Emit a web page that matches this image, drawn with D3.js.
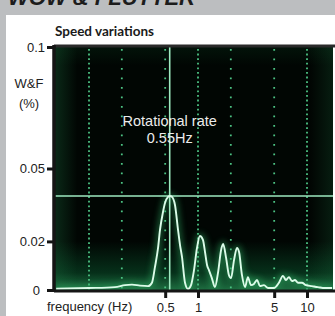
<!DOCTYPE html>
<html>
<head>
<meta charset="utf-8">
<script src="https://cdn.jsdelivr.net/npm/d3@7"></script>
<style>
  html, body { margin: 0; padding: 0; background: #bcbec0; }
  svg { display: block; }
</style>
</head>
<body>
<svg id="chart" width="335" height="316"></svg>
<script>
// spectrum (frequency in Hz, W&F in %)
const freq = [0.05, 0.1, 0.173, 0.214, 0.248, 0.294, 0.348, 0.378, 0.403, 0.43, 0.448, 0.477, 0.498,
  0.531, 0.553, 0.577, 0.615, 0.656, 0.684, 0.713, 0.76, 0.81, 0.863, 0.919, 0.979, 1.04, 1.11,
  1.16, 1.21, 1.26, 1.34, 1.43, 1.53, 1.63, 1.7, 1.81, 1.92, 2.01, 2.14, 2.28, 2.38, 2.53, 2.7,
  2.87, 3.06, 3.26, 3.48, 3.7, 4.03, 4.39, 4.98, 5.53, 6.02, 6.41, 6.83, 7.28, 7.76, 8.27, 8.99,
  9.78, 11.1, 12.6, 14.6, 17];
const wf = [0.0005, 0.0008, 0.0012, 0.002, 0.0022, 0.0018, 0.0016, 0.003, 0.0095, 0.0173, 0.0247,
  0.032, 0.0358, 0.0383, 0.0387, 0.0383, 0.035, 0.0247, 0.0185, 0.0136, 0.003, 0.0004, 0.002,
  0.0082, 0.0173, 0.0222, 0.0206, 0.0156, 0.0103, 0.0082, 0.0049, 0.0012, 0.0074, 0.0165, 0.0189,
  0.0132, 0.0062, 0.0049, 0.0123, 0.0173, 0.0156, 0.0062, 0.0012, 0.0053, 0.002, 0.0025, 0.0041,
  0.0016, 0.002, 0.0008, 0.0008, 0.003, 0.0058, 0.0041, 0.0053, 0.0037, 0.0041, 0.003, 0.003,
  0.002, 0.0016, 0.0012, 0.0008, 0.0008];

const xTicks = [0.5, 1, 5, 10];
const yTicks = [0, 0.02, 0.05, 0.1];
const gridFreqs = [0.1, 0.2, 0.5, 1, 2, 5, 10];
const decadeFreqs = [0.1, 1, 10];
const peakFreq = 0.55;
const peakLevel = 0.0387;

const svg = d3.select('#chart');

// plot box
const pLeft = 55, pRight = 333, pTop = 46, pBottom = 290;

const x = d3.scaleLog().domain([0.1, 10]).range([89, 307]);
const y = d3.scaleLinear().domain([0, 0.1]).range([pBottom, 47]);

// header strip (title runs off the top, as in the page it was cut from) + white panel
svg.append('text')
  .attr('x', 8).attr('y', 5)
  .attr('font-family', 'Liberation Sans, Arial, sans-serif')
  .attr('font-size', 22).attr('font-weight', 'bold').attr('font-style', 'italic')
  .attr('fill', '#1c1c1c')
  .text('WOW & FLUTTER');

svg.append('rect')
  .attr('x', 6).attr('y', 15).attr('width', 335).attr('height', 316)
  .attr('fill', '#fff');

svg.append('text')
  .attr('x', 55).attr('y', 36)
  .attr('font-family', 'Lato, sans-serif')
  .attr('font-size', 13.5).attr('font-weight', 'bold')
  .attr('fill', '#1a1a1a')
  .text('Speed variations');

const defs = svg.append('defs');

const bg = defs.append('linearGradient')
  .attr('id', 'bg').attr('x1', 0).attr('y1', 0).attr('x2', 0).attr('y2', 1);
bg.append('stop').attr('offset', '0%').attr('stop-color', '#03140a');
bg.append('stop').attr('offset', '8%').attr('stop-color', '#010603');
bg.append('stop').attr('offset', '80%').attr('stop-color', '#010603');
bg.append('stop').attr('offset', '93%').attr('stop-color', '#06301a');
bg.append('stop').attr('offset', '100%').attr('stop-color', '#1e6e41');

const side = defs.append('linearGradient')
  .attr('id', 'side').attr('x1', 0).attr('y1', 0).attr('x2', 1).attr('y2', 0);
side.append('stop').attr('offset', '0%').attr('stop-color', '#1f7a46').attr('stop-opacity', 0.3);
side.append('stop').attr('offset', '8%').attr('stop-color', '#1f7a46').attr('stop-opacity', 0);
side.append('stop').attr('offset', '92%').attr('stop-color', '#1f7a46').attr('stop-opacity', 0);
side.append('stop').attr('offset', '100%').attr('stop-color', '#1f7a46').attr('stop-opacity', 0.2);

const glow = defs.append('filter').attr('id', 'glow')
  .attr('x', '-20%').attr('y', '-20%').attr('width', '140%').attr('height', '140%');
glow.append('feGaussianBlur').attr('stdDeviation', 3);

defs.append('clipPath').attr('id', 'clip')
  .append('rect')
  .attr('x', pLeft).attr('y', pTop).attr('width', pRight - pLeft).attr('height', pBottom - pTop);

svg.append('rect')
  .attr('x', pLeft).attr('y', pTop).attr('width', pRight - pLeft).attr('height', pBottom - pTop)
  .attr('fill', 'url(#bg)');
svg.append('rect')
  .attr('x', pLeft).attr('y', pTop).attr('width', pRight - pLeft).attr('height', pBottom - pTop)
  .attr('fill', 'url(#side)');

const plot = svg.append('g').attr('clip-path', 'url(#clip)');

// dotted frequency grid
plot.append('g')
  .selectAll('line')
  .data(gridFreqs)
  .join('line')
  .attr('x1', d => x(d)).attr('x2', d => x(d))
  .attr('y1', pTop + 3).attr('y2', pBottom)
  .attr('stroke', '#4cc283')
  .attr('stroke-width', 1.8)
  .attr('stroke-dasharray', d => decadeFreqs.includes(d) ? '1.8,2.8' : '1.8,7.7');

const line = d3.line()
  .x((d, i) => x(freq[i]))
  .y(d => y(d))
  .curve(d3.curveMonotoneX);

// green halo under the trace
plot.append('path')
  .attr('d', line(wf))
  .attr('fill', 'none')
  .attr('stroke', '#2fae63')
  .attr('stroke-width', 6)
  .attr('opacity', 0.5)
  .attr('filter', 'url(#glow)');

// peak markers
plot.append('line')
  .attr('x1', pLeft).attr('x2', pRight)
  .attr('y1', y(peakLevel)).attr('y2', y(peakLevel))
  .attr('stroke', '#9eeac0').attr('stroke-width', 1.6);
plot.append('line')
  .attr('x1', x(peakFreq)).attr('x2', x(peakFreq))
  .attr('y1', pTop).attr('y2', pBottom)
  .attr('stroke', '#9eeac0').attr('stroke-width', 1.6);

plot.append('path')
  .attr('d', line(wf))
  .attr('fill', 'none')
  .attr('stroke', '#dcfce9')
  .attr('stroke-width', 1.9)
  .attr('stroke-linejoin', 'round');

const note = svg.append('g')
  .attr('font-family', 'Liberation Sans, Arial, sans-serif')
  .attr('font-size', 14.5)
  .attr('fill', '#ececec')
  .attr('text-anchor', 'middle');
note.append('text').attr('x', x(peakFreq)).attr('y', 126).text('Rotational rate');
note.append('text').attr('x', x(peakFreq)).attr('y', 143).text(peakFreq + 'Hz');

// frame
svg.append('line')
  .attr('x1', pLeft - 1).attr('x2', pRight + 2).attr('y1', pTop).attr('y2', pTop)
  .attr('stroke', '#2a2a2a').attr('stroke-width', 3);
svg.append('line')
  .attr('x1', pLeft - 1).attr('x2', pRight + 2).attr('y1', pBottom + 1).attr('y2', pBottom + 1)
  .attr('stroke', '#151515').attr('stroke-width', 3);
svg.append('line')
  .attr('x1', pLeft - 1).attr('x2', pLeft - 1).attr('y1', pTop - 1).attr('y2', pBottom + 2)
  .attr('stroke', '#151515').attr('stroke-width', 3.5);

// axes
const yAxis = svg.append('g')
  .attr('transform', `translate(${pLeft - 1},0)`)
  .call(d3.axisLeft(y).tickValues(yTicks).tickSize(7).tickPadding(2)
    .tickFormat(d => d === 0 ? '0' : String(d)));

const xAxis = svg.append('g')
  .attr('transform', `translate(0,${pBottom + 2})`)
  .call(d3.axisBottom(x).tickValues(xTicks).tickSize(6).tickPadding(5)
    .tickFormat(d => String(d)));

[yAxis, xAxis].forEach(ax => {
  ax.select('.domain').remove();
  ax.selectAll('.tick line').attr('stroke', '#151515').attr('stroke-width', 3);
  ax.selectAll('.tick text')
    .attr('font-family', 'Liberation Sans, Arial, sans-serif')
    .attr('font-size', 13)
    .attr('fill', '#222');
});
yAxis.selectAll('.tick text').filter(d => d === 0).attr('dx', -5);

svg.append('text')
  .attr('x', 47).attr('y', 311)
  .attr('font-family', 'Liberation Sans, Arial, sans-serif')
  .attr('font-size', 13).attr('fill', '#222')
  .text('frequency (Hz)');

const unit = svg.append('g')
  .attr('font-family', 'Liberation Sans, Arial, sans-serif')
  .attr('font-size', 13).attr('fill', '#222')
  .attr('text-anchor', 'middle');
unit.append('text').attr('x', 29).attr('y', 88).text('W&F');
unit.append('text').attr('x', 29).attr('y', 108).text('(%)');
</script>
</body>
</html>
